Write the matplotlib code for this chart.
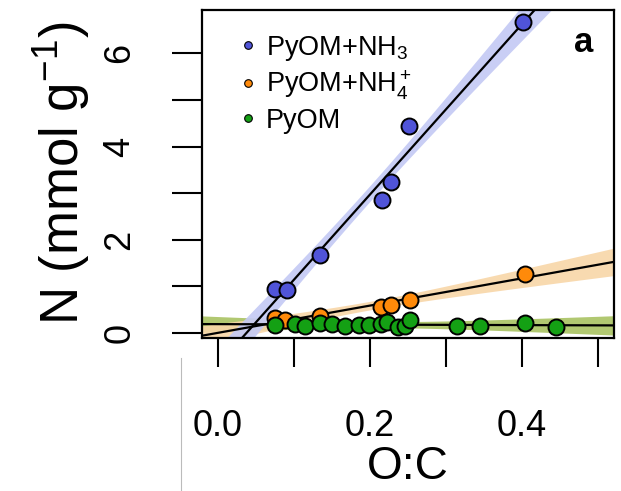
import numpy as np
import matplotlib
matplotlib.use("Agg")
import matplotlib.pyplot as plt
from matplotlib.lines import Line2D

plt.rcParams['font.family'] = ['Liberation Sans', 'DejaVu Sans']
plt.rcParams['mathtext.fontset'] = 'custom'
plt.rcParams['mathtext.rm'] = 'Liberation Sans'
plt.rcParams['mathtext.it'] = 'Liberation Sans:italic'
plt.rcParams['mathtext.bf'] = 'Liberation Sans:bold'

# ---- data ----
nh3_x = [0.075, 0.091, 0.134, 0.216, 0.228, 0.251, 0.401]
nh3_y = [0.94, 0.92, 1.67, 2.85, 3.24, 4.44, 6.67]

nh4_x = [0.075, 0.088, 0.134, 0.215, 0.228, 0.253, 0.404]
nh4_y = [0.32, 0.28, 0.37, 0.56, 0.60, 0.71, 1.27]

pyom_x = [0.075, 0.101, 0.114, 0.134, 0.150, 0.167, 0.185, 0.199, 0.215,
          0.222, 0.237, 0.246, 0.253, 0.314, 0.345, 0.404, 0.445]
pyom_y = [0.17, 0.19, 0.15, 0.22, 0.19, 0.15, 0.17, 0.17, 0.19,
          0.24, 0.13, 0.16, 0.27, 0.15, 0.15, 0.21, 0.13]

labels = ['PyOM+NH$_3$', 'PyOM+NH$_4^+$', 'PyOM']
colors = ['#5054d8', '#ff8a0a', '#14a014']
band_colors = ['#c3c9f4', '#f8d6a8', '#a9c262']
band_k = [1.3, 3.2, 7.0]   # band half-width in standard errors

xticks = [0.0, 0.1, 0.2, 0.3, 0.4, 0.5]
xticklabels = ['0.0', '', '0.2', '', '0.4', '']
yticks = [0, 1, 2, 3, 4, 5, 6]
yticklabels = ['0', '', '2', '', '4', '', '6']

W, H = 621, 491
fig = plt.figure(figsize=(W / 100, H / 100), dpi=100)
ax = fig.add_axes([202 / W, 1 - 338 / H, 412 / W, 328 / H])
xmin, xmax = -0.021, 0.521
ax.set_xlim(xmin, xmax)
ax.set_ylim(-0.107, 6.93)

series = [(nh3_x, nh3_y), (nh4_x, nh4_y), (pyom_x, pyom_y)]
xs = np.linspace(xmin - 0.05, xmax + 0.05, 300)
for i in [2, 1, 0]:
    x = np.asarray(series[i][0]); y = np.asarray(series[i][1])
    n = len(x)
    b, a = np.polyfit(x, y, 1)
    res = y - (a + b * x)
    s = np.sqrt(np.sum(res ** 2) / (n - 2))
    sxx = np.sum((x - x.mean()) ** 2)
    se = s * np.sqrt(1.0 / n + (xs - x.mean()) ** 2 / sxx)
    fit = a + b * xs
    ax.fill_between(xs, fit - band_k[i] * se, fit + band_k[i] * se,
                    color=band_colors[i], lw=0, zorder=1, alpha=0.9)
for i in [2, 1, 0]:
    x = np.asarray(series[i][0]); y = np.asarray(series[i][1])
    b, a = np.polyfit(x, y, 1)
    ax.plot(xs, a + b * xs, color='black', lw=1.6, zorder=2)

for i in [0, 1, 2]:
    ax.plot(series[i][0], series[i][1], 'o', ms=11.5, mfc=colors[i],
            mec='black', mew=1.4, zorder=3 + i, clip_on=False)

for sp in ax.spines.values():
    sp.set_linewidth(1.6)

ax.set_xticks(xticks)
ax.set_xticklabels(xticklabels, fontsize=26)
ax.set_yticks(yticks)
ax.set_yticklabels(yticklabels, fontsize=26, rotation=90, va='center')
ax.tick_params(axis='x', length=21, width=1.5, pad=30, direction='out')
ax.tick_params(axis='y', length=21.5, width=1.5, pad=25, direction='out')

# legend (manual)
leg_y = [45, 83, 118]
base_y = [55, 92, 128]
for i in range(3):
    ax.plot([(248 - 202) / 412], [(338 - leg_y[i]) / 328], 'o', ms=5.5,
            mfc=colors[i], mec='black', mew=0.8, transform=ax.transAxes,
            zorder=6)
    ax.text((266 - 202) / 412, (338 - base_y[i]) / 328, labels[i],
            fontsize=19.5, ha='left', va='baseline', transform=ax.transAxes)

ax.text((584 - 202) / 412, (338 - 43) / 328, 'a', fontsize=25,
        fontweight='bold', ha='center', va='center', transform=ax.transAxes)

fig.text(408 / W, 1 - 489 / H, 'O:C', fontsize=33, ha='center',
         va='bottom')
fig.text(62 / W, 1 - 173 / H, 'N (mmol g$^{-1}$)', fontsize=38, rotation=90,
         ha='center', va='center')

fig.add_artist(Line2D([181 / W, 181 / W], [0, 1 - 358 / H], color='#bbbbbb',
                      lw=0.8, transform=fig.transFigure))

fig.savefig('out.png', dpi=100)
